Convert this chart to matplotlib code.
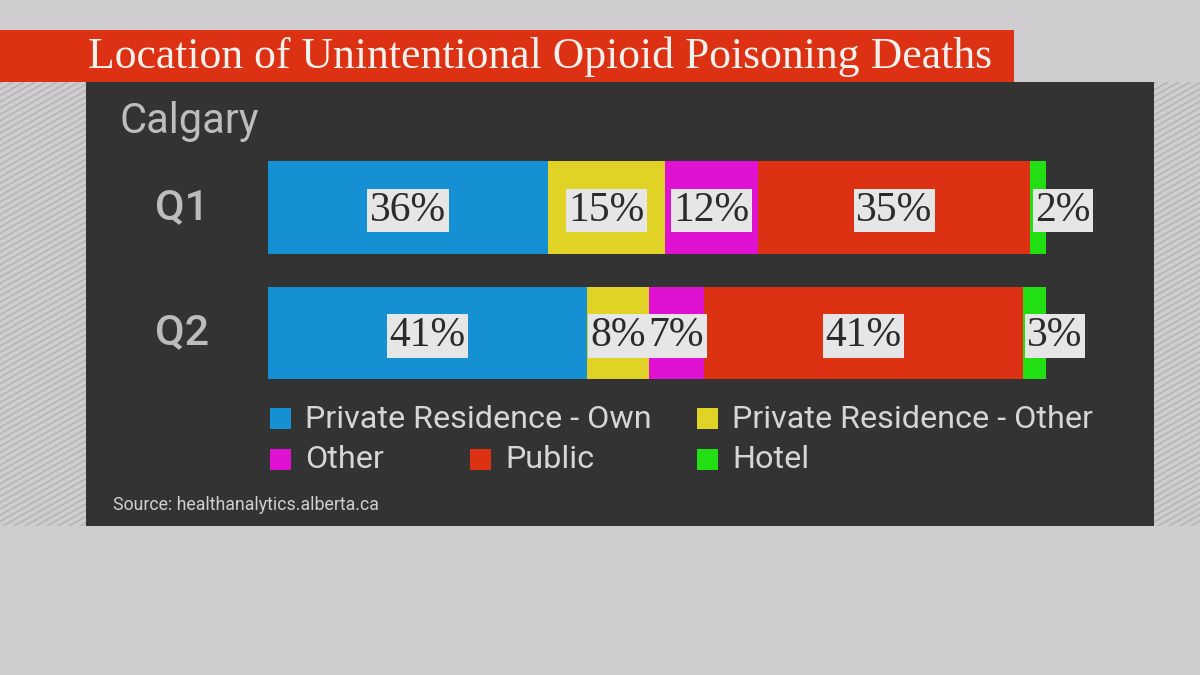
import matplotlib
matplotlib.use('Agg')
import matplotlib.pyplot as plt
from matplotlib.patches import Rectangle
from matplotlib.collections import LineCollection
import numpy as np

# Chart data
quarters = ['Q1', 'Q2']
categories = ['Private Residence - Own', 'Private Residence - Other', 'Other', 'Public', 'Hotel']
q1_values = [36, 15, 12, 35, 2]
q2_values = [41, 8, 7, 41, 3]
colors = ['#1591d3', '#e1d325', '#df12d2', '#dd3113', '#22df14']

title = 'Location of Unintentional Opioid Poisoning Deaths'
city = 'Calgary'
source = 'Source: healthanalytics.alberta.ca'

BG = '#cfcdcf'
PANEL = '#333333'
BANNER = '#dc3112'

fig = plt.figure(figsize=(12, 6.75), dpi=100, facecolor=BG)

# Background canvas in pixel coordinates (y grows downward)
bg = fig.add_axes([0, 0, 1, 1], zorder=0)
bg.set_xlim(0, 1200)
bg.set_ylim(675, 0)
bg.axis('off')

# Diagonal striped band behind the panel
segs = []
for x0 in np.arange(-800, 1300, 11):
    segs.append([(x0, 526), (x0 + 780, 82)])
bg.add_collection(LineCollection(segs, colors='#b6b4b6', linewidths=1.2, zorder=0.5))
bg.add_patch(Rectangle((-10, 0), 1220, 82, facecolor=BG, edgecolor='none', zorder=1))
bg.add_patch(Rectangle((-10, 526), 1220, 160, facecolor=BG, edgecolor='none', zorder=1))

# Dark panel and red title banner
bg.add_patch(Rectangle((86, 82), 1068, 444, facecolor=PANEL, edgecolor='none', zorder=1))
bg.add_patch(Rectangle((0, 30), 1014, 52, facecolor=BANNER, edgecolor='none', zorder=1))
bg.text(540, 57, title, family='Liberation Serif', fontsize=31.5, color='#f3f1ee',
        ha='center', va='center', zorder=3)

bg.text(120, 121, city, family='Roboto', fontsize=30, color='#bdbdbd', ha='left', va='center', zorder=3)
bg.text(113, 505, source, family='Roboto', fontsize=12.8, color='#cfcfcf', ha='left', va='center', zorder=3)

# Legend drawn by hand (two rows, uneven columns)
legend_pos = [(270, 419), (697, 419), (270, 460), (470, 460), (697, 460)]
for (lx, ly), name, col in zip(legend_pos, categories, colors):
    bg.add_patch(Rectangle((lx, ly - 11), 21, 21, facecolor=col, edgecolor='none', zorder=3))
    bg.text(lx + 35, ly, name, family='Roboto', fontsize=23.3, color='#d6d6d6',
            ha='left', va='center', zorder=3)

# Stacked bar axes
ax = fig.add_axes([268 / 1200, (675 - 400) / 675, 778 / 1200, 260 / 675], zorder=2)
ax.set_facecolor('none')
ax.set_xlim(0, 100)
ax.set_ylim(1.534, -0.538)
ax.axis('off')

# Quarter labels to the left of the bars
for i, q in enumerate(quarters):
    ax.text(-0.1105, i, q, transform=ax.get_yaxis_transform(), family='Roboto',
            fontsize=31, fontweight='medium', color='#bcbcbc', ha='center', va='center')

for i, vals in enumerate([q1_values, q2_values]):
    left = 0
    for v, col in zip(vals, colors):
        ax.barh(i, v, left=left, height=0.74, color=col, edgecolor='none')
        if v < 5:
            tx, ha = left + 0.6, 'left'
        else:
            tx, ha = left + v / 2, 'center'
        ax.text(tx, i + 0.025, f'{v}%', family='Liberation Serif', fontsize=30, color='#2b2b2b',
                ha=ha, va='center',
                bbox=dict(boxstyle='square,pad=0.06', facecolor='#e6e6e6', edgecolor='none'))
        left += v

fig.savefig('out.png', dpi=100, facecolor=BG)
